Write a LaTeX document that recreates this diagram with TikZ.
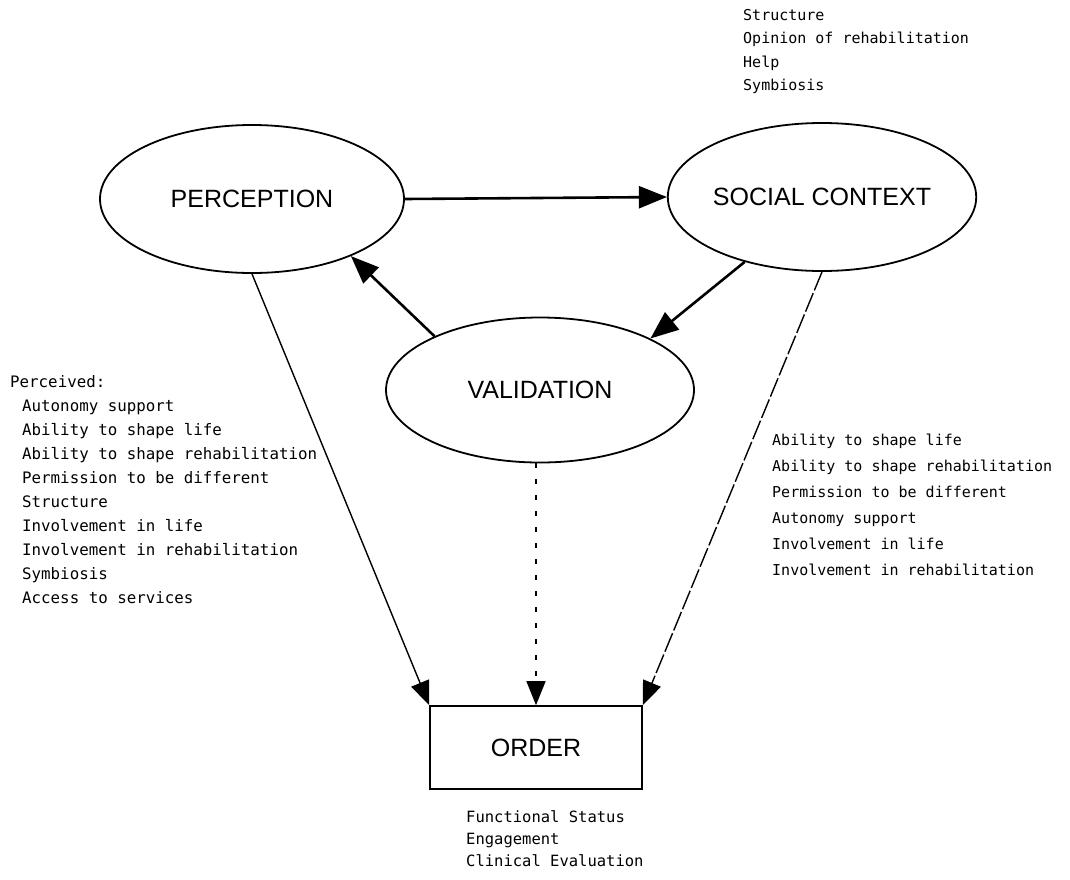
\documentclass[tikz,border=0pt]{standalone}
\usepackage{fontspec}
\setmainfont{Liberation Sans}
\newfontfamily\monof{DejaVu Sans Mono}
\usetikzlibrary{shapes.geometric,arrows.meta}
\begin{document}
\begin{tikzpicture}[x=1pt,y=-1pt,
  bigellipse/.style={ellipse, draw, line width=1.8pt, inner sep=0pt, font=\fontsize{25}{30}\selectfont},
  orderbox/.style={rectangle, draw, line width=1.6pt, inner sep=0pt, font=\fontsize{25}{30}\selectfont},
  note/.style={anchor=north west, align=left, inner sep=0pt, font=\monof\fontsize{15}{20.4}\selectfont},
  thickarrow/.style={line width=2.6pt, -{Triangle[length=28pt,width=22pt]}},
  thinarrow/.style={line width=1.4pt, -{Triangle[length=24pt,width=19pt]}},
]
\useasboundingbox[fill=white] (0,0) rectangle (1070,879);

\node[bigellipse, minimum width=304pt, minimum height=148pt] (perc) at (252,199) {PERCEPTION};
\node[bigellipse, minimum width=294pt, minimum height=148pt] (soc) at (822,197) {SOCIAL CONTEXT};
\node[bigellipse, minimum width=308pt, minimum height=145pt] (val) at (540,390) {VALIDATION};
\node[orderbox, minimum width=212pt, minimum height=83pt] (order) at (536,747.5) {ORDER};

% text blocks
\node[note, font=\monof\fontsize{15}{23.5}\selectfont] (topnote) at (743,9) {Structure\\Opinion of rehabilitation\\Help\\Symbiosis};
\node[note, font=\monof\fontsize{15.8}{24}\selectfont] (leftnote) at (10,375) {Perceived:\\
\hspace*{12pt}Autonomy support\\
\hspace*{12pt}Ability to shape life\\
\hspace*{12pt}Ability to shape rehabilitation\\
\hspace*{12pt}Permission to be different\\
\hspace*{12pt}Structure\\
\hspace*{12pt}Involvement in life\\
\hspace*{12pt}Involvement in rehabilitation\\
\hspace*{12pt}Symbiosis\\
\hspace*{12pt}Access to services};
\node[note, font=\monof\fontsize{15}{26}\selectfont] (rightnote) at (772,434) {Ability to shape life\\
Ability to shape rehabilitation\\
Permission to be different\\
Autonomy support\\
Involvement in life\\
Involvement in rehabilitation};
\node[note, font=\monof\fontsize{15.5}{22}\selectfont] (bottomnote) at (466,810) {Functional Status\\Engagement\\Clinical Evaluation};

% connectors
\draw[thickarrow] (perc.east) -- (soc.west);
\draw[thickarrow] (soc.220) -- (val.25);
\draw[thickarrow] (val.153) -- (perc.-30);
\draw[thinarrow] (perc.south) -- (order.north west);
\draw[thinarrow, dash pattern=on 5pt off 11pt] (order.north |- val.south) -- (order.north);
\draw[thinarrow, dash pattern=on 20pt off 3pt] (soc.south) -- (order.north east);
\end{tikzpicture}
\end{document}
